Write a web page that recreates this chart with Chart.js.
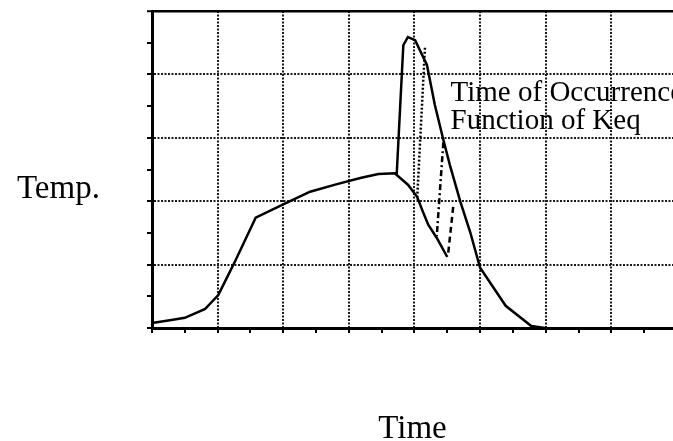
<!DOCTYPE html>
<html>
<head>
<meta charset="utf-8">
<script src="https://cdn.jsdelivr.net/npm/chart.js@4/dist/chart.umd.min.js"></script>
<style>
  html, body { margin: 0; padding: 0; background: #fff; }
  #myChart { display: block; }
</style>
</head>
<body>
<canvas id="myChart" width="673" height="441"></canvas>
<script>
// curve, time in grid cells, temp in grid cells
const baseTime = [0, 0.32, 0.5, 0.63, 0.81, 0.91, 1.01, 1.14, 1.27, 1.58, 2.04, 2.41, 2.82, 3.19, 3.45, 3.7, 3.9, 4.04, 4.13, 4.21, 4.34, 4.5];
const baseTemp = [0.08, 0.13, 0.16, 0.22, 0.3, 0.41, 0.52, 0.79, 1.06, 1.74, 1.97, 2.15, 2.27, 2.37, 2.43, 2.44, 2.26, 2.07, 1.83, 1.63, 1.42, 1.12];

const peakTime = [3.7, 3.73, 3.83, 3.9, 4.01, 4.19, 4.31, 4.44, 4.54, 4.7, 4.85, 5.0, 5.39, 5.78, 5.99];
const peakTemp = [2.44, 2.44, 4.46, 4.59, 4.54, 4.15, 3.52, 2.97, 2.57, 1.99, 1.51, 0.95, 0.35, 0.03, 0];

// alternative occurrence lines
const dotTime = [4.16, 4.04];
const dotTemp = [4.42, 2.02];
const dashDotTime = [4.44, 4.34];
const dashDotTemp = [2.93, 1.45];
const dashTime = [4.59, 4.51];
const dashTemp = [1.91, 1.14];

const yLabel = 'Temp.';
const xLabel = 'Time';
const noteLines = ['Time of Occurrence', 'Function of Keq'];

function toPoints(xs, ys) {
  return xs.map((x, i) => ({ x: x, y: ys[i] }));
}

function line(xs, ys, dash) {
  return {
    data: toPoints(xs, ys),
    borderColor: '#000',
    borderWidth: 2.5,
    borderDash: dash,
    pointRadius: 0,
    fill: false,
    tension: 0
  };
}

const labelsPlugin = {
  id: 'labels',
  afterDraw(chart) {
    const { ctx, scales: { x, y } } = chart;
    ctx.save();
    ctx.fillStyle = '#000';
    ctx.textBaseline = 'alphabetic';
    ctx.font = '33px "Liberation Serif"';
    ctx.fillText(yLabel, 17, 198);
    ctx.font = '29px "Liberation Serif"';
    const nx = x.getPixelForValue(4.55);
    const ny = y.getPixelForValue(3.58);
    noteLines.forEach((t, i) => ctx.fillText(t, nx, ny + i * 28));
    ctx.restore();
  }
};

const minorGrid = (c) => (c.tick && c.tick.value % 1 === 0) ? '#1a1a1a' : 'transparent';

new Chart(document.getElementById('myChart'), {
  type: 'line',
  data: {
    datasets: [
      line(baseTime, baseTemp, []),
      line(peakTime, peakTemp, []),
      line(dotTime, dotTemp, [2, 2]),
      line(dashDotTime, dashDotTemp, [6, 3, 2, 3]),
      line(dashTime, dashTemp, [6, 4])
    ]
  },
  options: {
    responsive: false,
    devicePixelRatio: 1,
    animation: false,
    layout: { padding: { left: 140, top: 11, right: 0, bottom: 0 } },
    plugins: { legend: { display: false }, tooltip: { enabled: false } },
    scales: {
      x: {
        type: 'linear',
        min: 0,
        max: 7.94,
        ticks: { stepSize: 0.5, includeBounds: false, display: false },
        grid: { color: minorGrid, lineWidth: 2, tickColor: '#000', tickLength: 5, tickWidth: 2 },
        border: { color: '#000', width: 3, dash: (c) => c.tick ? [2, 1.5] : [] },
        title: {
          display: true,
          text: xLabel,
          color: '#000',
          font: { family: '"Liberation Serif"', size: 33, lineHeight: 1 },
          padding: { top: 0, bottom: -5 }
        },
        afterFit(scale) { scale.height = 113; }
      },
      y: {
        min: 0,
        max: 5,
        ticks: { stepSize: 0.5, display: false },
        grid: {
          color: (c) => (c.tick && c.tick.value === 5) ? '#000' : minorGrid(c),
          lineWidth: (c) => (c.tick && c.tick.value === 5) ? 2.5 : 2,
          tickColor: '#000', tickLength: 5, tickWidth: 2
        },
        border: { color: '#000', width: 3, dash: (c) => (c.tick && c.tick.value < 5) ? [2, 1.5] : [] },
        afterFit(scale) { scale.width = 12; }
      }
    }
  },
  plugins: [labelsPlugin]
});
</script>
</body>
</html>
